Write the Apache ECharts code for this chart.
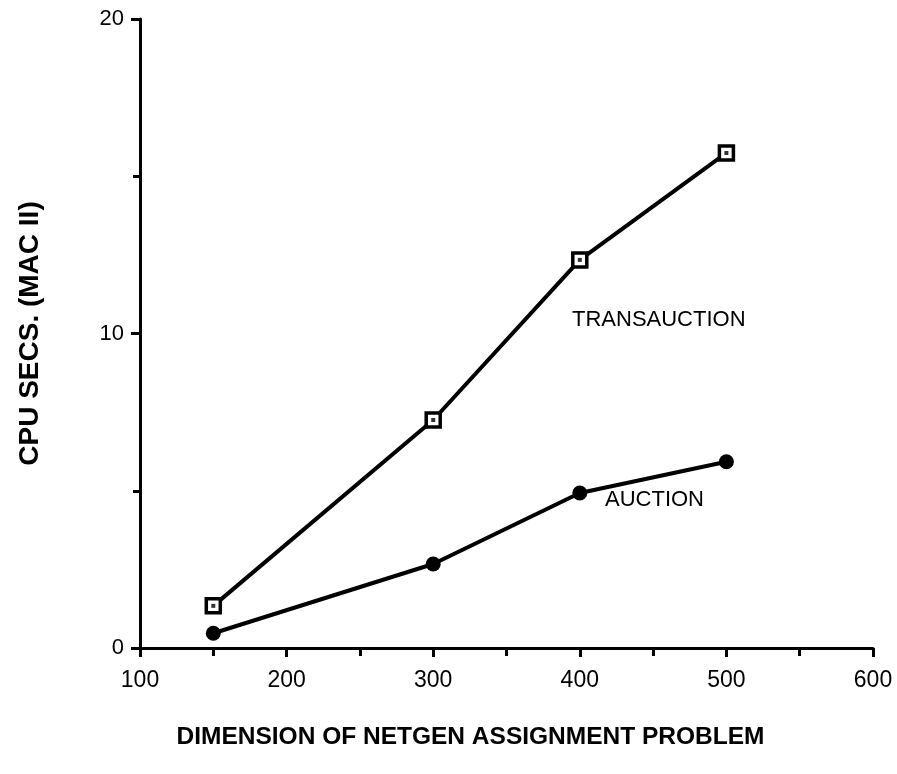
<!DOCTYPE html>
<html>
<head>
<meta charset="utf-8">
<script src="https://cdn.jsdelivr.net/npm/echarts@6/dist/echarts.min.js"></script>
<style>html,body{margin:0;padding:0;background:#fff}#c{width:897px;height:774px}</style>
</head>
<body>
<div id="c"></div>
<script>
var dimensions = [150, 300, 400, 500];
var transauction = [1.34, 7.25, 12.34, 15.74];
var auction = [0.47, 2.67, 4.93, 5.92];
var xTicks = [100, 200, 300, 400, 500, 600];
var yTicks = [0, 10, 20];

function pairs(xs, ys) { return xs.map(function (x, i) { return [x, ys[i]]; }); }

var chart = echarts.init(document.getElementById('c'), null, { renderer: 'canvas' });
var font = '"Liberation Sans", Arial, Helvetica, sans-serif';
chart.setOption({
  animation: false,
  backgroundColor: '#fff',
  grid: { left: 140, right: 24, top: 19, bottom: 126 },
  xAxis: {
    type: 'value', min: xTicks[0], max: xTicks[xTicks.length - 1], interval: 100,
    name: 'DIMENSION OF NETGEN ASSIGNMENT PROBLEM', nameLocation: 'middle', nameGap: 77,
    nameTextStyle: { fontFamily: font, fontSize: 24.5, fontWeight: 'bold', color: '#000', padding: [0, 72, 0, 0] },
    axisLine: { lineStyle: { color: '#000', width: 3 } },
    axisTick: { show: true, length: 9, lineStyle: { color: '#000', width: 3 } },
    minorTick: { show: true, splitNumber: 2, length: 8, lineStyle: { color: '#000', width: 3 } },
    axisLabel: { fontFamily: font, fontSize: 23, color: '#000', margin: 21 },
    splitLine: { show: false }
  },
  yAxis: {
    type: 'value', min: yTicks[0], max: yTicks[yTicks.length - 1], interval: 10,
    name: 'CPU SECS. (MAC II)', nameLocation: 'middle', nameGap: 96,
    nameTextStyle: { fontFamily: font, fontSize: 28, fontWeight: 'bold', color: '#000' },
    axisLine: { show: true, lineStyle: { color: '#000', width: 3 } },
    axisTick: { show: true, length: 9, lineStyle: { color: '#000', width: 3 } },
    minorTick: { show: true, splitNumber: 2, length: 7, lineStyle: { color: '#000', width: 3 } },
    axisLabel: { fontFamily: font, fontSize: 22, color: '#000', margin: 16 },
    splitLine: { show: false }
  },
  series: [
    {
      name: 'TRANSAUCTION', type: 'line', data: pairs(dimensions, transauction),
      lineStyle: { color: '#000', width: 4 },
      symbol: 'rect', symbolSize: 14,
      itemStyle: { color: '#fff', borderColor: '#000', borderWidth: 3.5 },
      z: 3
    },
    {
      name: 'TRANSAUCTION dot', type: 'scatter', data: pairs(dimensions, transauction),
      symbol: 'rect', symbolSize: 4, itemStyle: { color: '#000' }, z: 4, silent: true
    },
    {
      name: 'AUCTION', type: 'line', data: pairs(dimensions, auction),
      lineStyle: { color: '#000', width: 4 },
      symbol: 'circle', symbolSize: 15,
      itemStyle: { color: '#000', borderWidth: 0 },
      z: 3
    }
  ],
  graphic: [
    { type: 'text', left: 572, top: 309, style: { text: 'TRANSAUCTION', font: '22px ' + font, fill: '#000' } },
    { type: 'text', left: 605, top: 489, style: { text: 'AUCTION', font: '22px ' + font, fill: '#000' } }
  ]
});
</script>
</body>
</html>
